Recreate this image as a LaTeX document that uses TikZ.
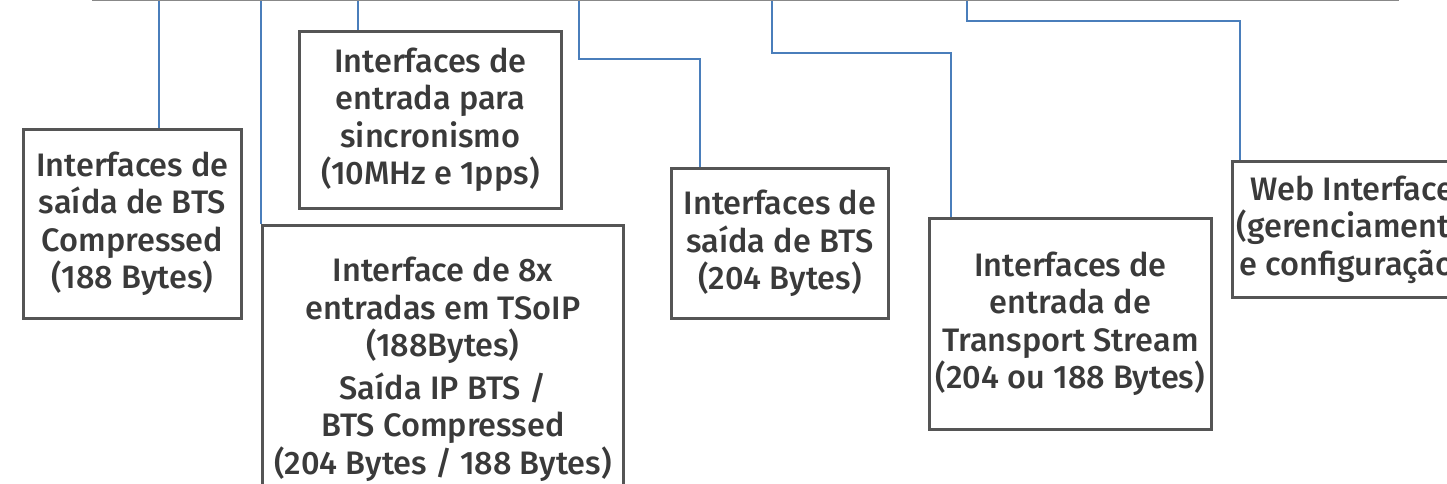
\documentclass[tikz,border=0pt]{standalone}
\usepackage{fontspec}
\setmainfont{Fira Sans}[UprightFont={* Medium}]
\definecolor{linkblue}{RGB}{74,126,187}
\definecolor{boxgray}{RGB}{85,85,85}
\definecolor{txtgray}{RGB}{58,58,58}
\begin{document}
\begin{tikzpicture}[x=1pt,y=-1pt,
  box/.style={draw=boxgray, line width=2.8pt, fill=white, text=txtgray,
    align=center, inner sep=0pt, anchor=north west,
    font=\fontsize{32.5}{37.5}\selectfont},
  link/.style={draw=linkblue, line width=2.5pt}]
\useasboundingbox (0,0) rectangle (1447,483);
\clip (0,0) rectangle (1447,483);
\fill[white] (0,0) rectangle (1447,483);
% cropped box above
\node[draw=boxgray!70, line width=2pt, minimum width=1305, minimum height=60,
  anchor=south west, inner sep=0pt] (top) at (92,1) {};
% connector start points on the top box
\coordinate (c1) at (159,1);
\coordinate (c2) at (261,1);
\coordinate (c3) at (358,1);
\coordinate (c4) at (579,1);
\coordinate (c5) at (772,1);
\coordinate (c6) at (967,1);
\coordinate (k4) at (700,59);
\coordinate (k5) at (951,53);
\coordinate (k6) at (1240,21);
% boxes
\node[box, minimum width=218, minimum height=189] (b1) at (22,128)
  {Interfaces de\\saída de BTS\\Compressed\\(188 Bytes)};
\node[box, minimum width=262, minimum height=177] (b2) at (298,30)
  {Interfaces de\\entrada para\\sincronismo\\(10MHz e 1pps)};
\node[box, minimum width=361, minimum height=288] (b3) at (261,224)
  {Interface de 8x\\entradas em TSoIP\\(188Bytes)\\[5pt]Saída IP BTS /\\BTS Compressed\\(204 Bytes / 188 Bytes)};
\node[box, minimum width=217, minimum height=150] (b4) at (670,167)
  {Interfaces de\\saída de BTS\\(204 Bytes)};
\node[box, minimum width=282, minimum height=211] (b5) at (928,217)
  {Interfaces de\\entrada de\\Transport Stream\\(204 ou 188 Bytes)};
\node[box, minimum width=240, minimum height=136] (b6) at (1231,160)
  {Web Interface\\(gerenciamento\\e configuração)};
% connectors
\draw[link] (c1) -- (c1 |- b1.north);
\draw[link] (c2) -- (b3.north west);
\draw[link] (c3) -- (c3 |- b2.north);
\draw[link] (c4) |- (k4) -- (k4 |- b4.north);
\draw[link] (c5) |- (k5) -- (k5 |- b5.north);
\draw[link] (c6) |- (k6) -- (k6 |- b6.north);
\end{tikzpicture}
\end{document}
